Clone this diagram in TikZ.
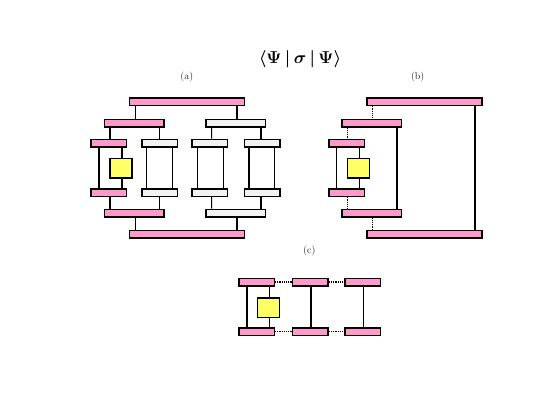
\documentclass[tikz,border=0pt]{standalone}
\usepackage{xcolor}
\usepackage{amsmath}
\usetikzlibrary{positioning}
\definecolor{barpink}{RGB}{255, 153, 204}
\definecolor{bargrey}{RGB}{242, 242, 242}
\definecolor{boxyellow}{RGB}{255, 255, 102}

\begin{document}
\begin{tikzpicture}[
          x=1pt, y=-1pt,
          bar/.style={rectangle, draw=black, line width=1.5pt, inner sep=0pt, minimum height=7.5pt},
          pinkbar/.style={bar, fill=barpink},
          greybar/.style={bar, fill=bargrey},
          sidebar/.style={minimum width=35.5pt},
          midbar/.style={minimum width=59.5pt},
          longbar/.style={minimum width=115pt},
          opbox/.style={rectangle, draw=black, line width=1.6pt, fill=boxyellow, inner sep=0pt, minimum width=22pt, minimum height=19.5pt},
          link/.style={draw=black, line width=1.05pt},
          thicklink/.style={draw=black, line width=1.5pt},
          dotlink/.style={draw=black, line width=1.2pt, densely dotted},
          label/.style={font=\normalsize, text=black!85}
        ]
          \useasboundingbox (0,0) rectangle (556,417);

          % Title and panel labels
          \node[font=\LARGE\boldmath] (title) at (300,59.5) {$\langle\Psi\,|\,\sigma\,|\,\Psi\rangle$};
          \node[label] (la) at (186.8,77) {(a)};
          \node[label] (lb) at (417.7,77) {(b)};
          \node[label] (lc) at (309.3,251) {(c)};

          % Panel (a)
          \node[pinkbar, longbar] (a1) at (186.8,101.7) {};
          \node[pinkbar, midbar] (a2l) at (134,123) {};
          \node[greybar, midbar] (a2r) at (235.5,123) {};
          \node[pinkbar, sidebar] (a3a) at (108.8,143) {};
          \node[greybar, sidebar] (a3b) at (159.6,143) {};
          \node[greybar, sidebar] (a3c) at (209.6,143) {};
          \node[greybar, sidebar] (a3d) at (262,143) {};
          \node[opbox] (ay) at (120.7,168.3) {};
          \node[pinkbar, sidebar] (a4a) at (108.8,192.7) {};
          \node[greybar, sidebar] (a4b) at (159.6,192.7) {};
          \node[greybar, sidebar] (a4c) at (209.6,192.7) {};
          \node[greybar, sidebar] (a4d) at (262,192.7) {};
          \node[pinkbar, midbar] (a5l) at (134,213) {};
          \node[greybar, midbar] (a5r) at (235.5,213) {};
          \node[pinkbar, longbar] (a6) at (186.8,234) {};

          % Upper and lower tree legs
          \foreach \u/\v/\su/\sv/\st in {a1/a2l/-51.5/1.3/link, a1/a2r/50.2/1.5/link,
              a2l/a3a/-24/1.2/link, a2l/a3b/25.3/-0.3/link, a2r/a3c/-23.8/2.1/link, a2r/a3d/25.5/-1/thicklink}
            \draw[\st] ([xshift=\su pt]\u.south) -- ([xshift=\sv pt]\v.north);
          \foreach \u/\v/\su/\sv/\st in {a6/a5l/-51.5/1.3/link, a6/a5r/50.2/1.5/link,
              a5l/a4a/-24/1.2/link, a5l/a4b/25.3/-0.3/link, a5r/a4c/-23.8/2.1/link, a5r/a4d/25.5/-1/thicklink}
            \draw[\st] ([xshift=\su pt]\u.north) -- ([xshift=\sv pt]\v.south);

          % Rungs between the two middle rows
          \foreach \u/\v/\s/\st in {a3a/a4a/-9.8/link, a3b/a4b/-12.9/link, a3b/a4b/13.1/thicklink,
              a3c/a4c/-11.9/link, a3c/a4c/13.7/link, a3d/a4d/-13/link, a3d/a4d/12.3/thicklink}
            \draw[\st] ([xshift=\s pt]\u.south) -- ([xshift=\s pt]\v.north);
          \draw[thicklink] ([xshift=13.2pt]a3a.south) -- ([xshift=1.3pt]ay.north);
          \draw[thicklink] ([xshift=1.3pt]ay.south) -- ([xshift=13.2pt]a4a.north);

          % Panel (b)
          \node[pinkbar, longbar] (b1) at (424.7,101.7) {};
          \node[pinkbar, midbar] (b2) at (371.8,123) {};
          \node[pinkbar, sidebar] (b3) at (346.5,143) {};
          \node[opbox] (by) at (358.3,168.3) {};
          \node[pinkbar, sidebar] (b4) at (346.5,192.7) {};
          \node[pinkbar, midbar] (b5) at (371.8,213) {};
          \node[pinkbar, longbar] (b6) at (424.7,234) {};

          \draw[dotlink] ([xshift=-52pt]b1.south) -- ([xshift=0.9pt]b2.north);
          \draw[dotlink] ([xshift=-24.1pt]b2.south) -- ([xshift=1.2pt]b3.north);
          \draw[dotlink] ([xshift=1.2pt]b4.south) -- ([xshift=-24.1pt]b5.north);
          \draw[dotlink] ([xshift=0.9pt]b5.south) -- ([xshift=-52pt]b6.north);
          \draw[link] ([xshift=50.3pt]b1.south) -- ([xshift=50.3pt]b6.north);
          \draw[thicklink] ([xshift=25.2pt]b2.south) -- ([xshift=25.2pt]b5.north);
          \draw[link] ([xshift=-9.8pt]b3.south) -- ([xshift=-9.8pt]b4.north);
          \draw[thicklink] ([xshift=12.8pt]b3.south) -- ([xshift=1pt]by.north);
          \draw[thicklink] ([xshift=1pt]by.south) -- ([xshift=12.8pt]b4.north);

          % Panel (c)
          \node[pinkbar, sidebar] (c1) at (256.5,282) {};
          \node[pinkbar, sidebar] (c2) at (310.3,282) {};
          \node[pinkbar, sidebar] (c3) at (362.5,282) {};
          \node[opbox] (cy) at (268.5,307.6) {};
          \node[pinkbar, sidebar] (c4) at (256.5,331.5) {};
          \node[pinkbar, sidebar] (c5) at (310.3,331.5) {};
          \node[pinkbar, sidebar] (c6) at (362.5,331.5) {};

          \draw[dotlink] (c1) -- (c2);
          \draw[dotlink] (c2) -- (c3);
          \draw[dotlink] (c4) -- (c5);
          \draw[dotlink] (c5) -- (c6);
          \draw[thicklink] ([xshift=-9.5pt]c1.south) -- ([xshift=-9.5pt]c4.north);
          \draw[link] ([xshift=13.2pt]c1.south) -- ([xshift=1.2pt]cy.north);
          \draw[link] ([xshift=1.2pt]cy.south) -- ([xshift=13.2pt]c4.north);
          \draw[link] ([xshift=0.7pt]c2.south) -- ([xshift=0.7pt]c5.north);
          \draw[thicklink] ([xshift=0.8pt]c3.south) -- ([xshift=0.8pt]c6.north);
        \end{tikzpicture}
\end{document}
